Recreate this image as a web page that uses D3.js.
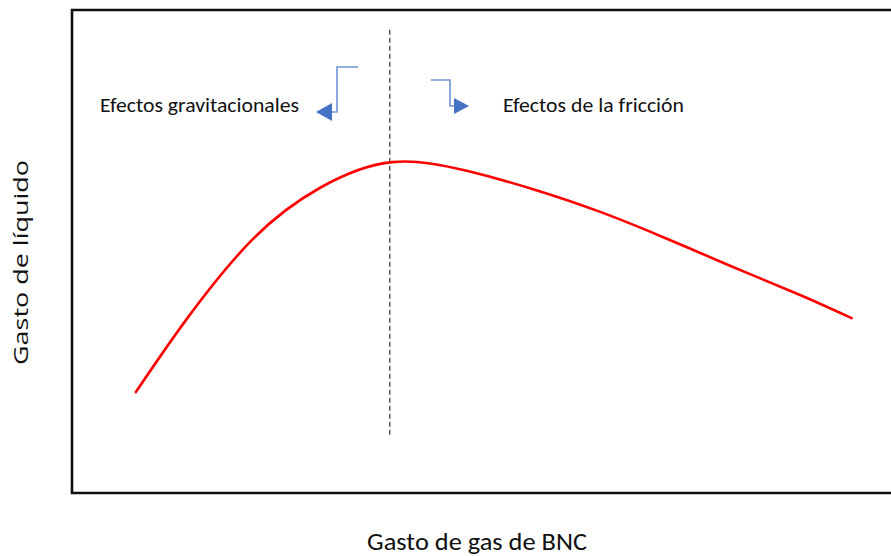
<!DOCTYPE html>
<html>
<head>
<meta charset="utf-8">
<script src="https://cdn.jsdelivr.net/npm/d3@7"></script>
<style>
  html, body { margin: 0; padding: 0; background: #fff; overflow: hidden; }
  svg { display: block; }
</style>
</head>
<body>
<div id="chart"></div>
<script>
// Curva de gasto de líquido vs gasto de gas de BNC (escala 0-100)
const gasX = [7.8, 14.0, 22.1, 30.3, 39.1, 48.2, 56.3, 64.5, 72.7, 80.7, 88.9, 95.2];
const liquidoY = [20.9, 36.0, 52.6, 63.2, 68.5, 66.7, 62.9, 58.2, 52.6, 46.8, 41.0, 36.2];

// Línea divisoria (gasto óptimo) y etiquetas
const divisoriaX = 38.8;
const divisoriaY = [12.0, 95.9];
const etiquetas = ["Efectos gravitacionales", "Efectos de la fricción"];
const tituloX = "Gasto de gas de BNC";
const tituloY = "Gasto de líquido";

const W = 891, H = 556;
const margin = { top: 10, right: 0, bottom: 63, left: 72 };

const svg = d3.select("#chart").append("svg")
    .attr("width", W)
    .attr("height", H);

const x = d3.scaleLinear().domain([0, 100]).range([margin.left, W - margin.right]);
const y = d3.scaleLinear().domain([0, 100]).range([H - margin.bottom, margin.top]);

// Marco (sin borde derecho visible: se sale del área)
svg.append("path")
    .attr("d", `M${W + 5},${y(100)} H${x(0)} V${y(0)} H${W + 5}`)
    .attr("fill", "none")
    .attr("stroke", "#111")
    .attr("stroke-width", 2.6);

// Línea discontinua vertical
svg.append("line")
    .attr("x1", x(divisoriaX)).attr("x2", x(divisoriaX))
    .attr("y1", y(divisoriaY[1])).attr("y2", y(divisoriaY[0]))
    .attr("stroke", "#333")
    .attr("stroke-width", 1.2)
    .attr("stroke-dasharray", "5,3");

// Curva roja
const datos = gasX.map((d, i) => ({ x: d, y: liquidoY[i] }));
svg.append("path")
    .datum(datos)
    .attr("fill", "none")
    .attr("stroke", "#ff0000")
    .attr("stroke-width", 2.6)
    .attr("stroke-linecap", "round")
    .attr("d", d3.line()
        .x(d => x(d.x))
        .y(d => y(d.y))
        .curve(d3.curveNatural));

// Flechas acodadas
const azulLinea = "#6f95d6", azulPunta = "#4472c4";
// izquierda
svg.append("path")
    .attr("d", "M358,67 H337 V112 H330")
    .attr("fill", "none").attr("stroke", azulLinea).attr("stroke-width", 1.6);
svg.append("path")
    .attr("d", "M316,112 L332,103 L332,121 Z")
    .attr("fill", azulPunta);
// derecha
svg.append("path")
    .attr("d", "M431,80 H450 V106 H456")
    .attr("fill", "none").attr("stroke", azulLinea).attr("stroke-width", 1.6);
svg.append("path")
    .attr("d", "M469,106 L454,98 L454,114 Z")
    .attr("fill", azulPunta);

// Etiquetas de zonas
const fuenteCal = "'Liberation Sans Narrow', 'Carlito', 'Open Sans', sans-serif";
svg.append("text")
    .attr("x", 100).attr("y", 112)
    .attr("font-family", fuenteCal)
    .attr("font-size", 20)
    .attr("fill", "#111")
    .attr("textLength", 199).attr("lengthAdjust", "spacingAndGlyphs")
    .text(etiquetas[0]);
svg.append("text")
    .attr("x", 503).attr("y", 112)
    .attr("font-family", fuenteCal)
    .attr("font-size", 20)
    .attr("fill", "#111")
    .attr("textLength", 181).attr("lengthAdjust", "spacingAndGlyphs")
    .text(etiquetas[1]);

// Título eje X
svg.append("text")
    .attr("x", 367).attr("y", 550)
    .attr("font-family", fuenteCal)
    .attr("font-size", 24)
    .attr("fill", "#111")
    .attr("textLength", 220).attr("lengthAdjust", "spacingAndGlyphs")
    .text(tituloX);

// Título eje Y
svg.append("text")
    .attr("transform", "translate(28,365) rotate(-90)")
    .attr("font-family", "'Open Sans', 'DejaVu Sans', sans-serif")
    .attr("font-size", 20)
    .attr("fill", "#111")
    .attr("textLength", 205).attr("lengthAdjust", "spacingAndGlyphs")
    .text(tituloY);
</script>
</body>
</html>
